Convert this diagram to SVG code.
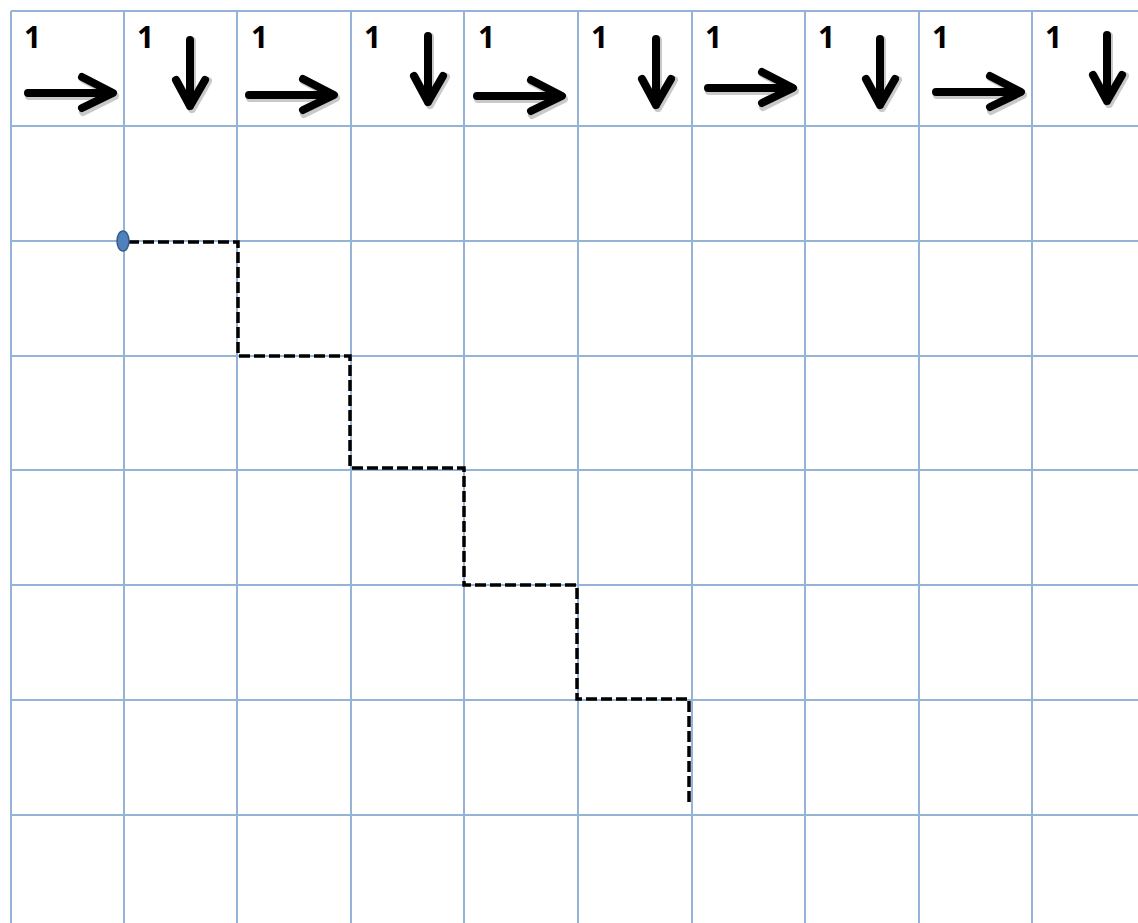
<svg xmlns="http://www.w3.org/2000/svg" width="1138" height="923" viewBox="0 0 1138 923">
<defs>
<style>
.g{stroke:#95B3D7;stroke-width:2;fill:none}
.a{stroke:#000;stroke-width:8;fill:none;stroke-linecap:round;stroke-linejoin:round}
.s{stroke:#888;stroke-opacity:0.45;stroke-width:8;fill:none;stroke-linecap:round;stroke-linejoin:round}
.n{font-family:"Open Sans","Liberation Sans",sans-serif;font-weight:bold;font-size:30px;fill:#000}
.d{stroke:#000;stroke-width:3.5;fill:none;stroke-dasharray:11 4}
</style>
<g id="ra"><path class="s" d="M29 96H114M83 79L115 96L83 112"/><path class="a" d="M28 93H112M82 77L113 93L82 108"/></g>
<g id="da"><path class="s" d="M192 41V109M177 81L192 109L208 81"/><path class="a" d="M190 40V106M176 80L190 106L205 80"/></g>
</defs>
<rect width="1138" height="923" fill="#fff"/>
<g id="grid">
<path class="g" d="M11 11V923M124 11V923M237 11V923M351 11V923M464 11V923M578 11V923M692 11V923M805 11V923M919 11V923M1032 11V923"/>
<path class="g" d="M11 11H1138M11 126H1138M11 241H1138M11 356H1138M11 470H1138M11 585H1138M11 700H1138M11 815H1138"/>
</g>
<g id="labels">
<text class="n" x="24" y="48">1</text>
<text class="n" x="137" y="48">1</text>
<text class="n" x="251" y="48">1</text>
<text class="n" x="364" y="48">1</text>
<text class="n" x="478" y="48">1</text>
<text class="n" x="591" y="48">1</text>
<text class="n" x="705" y="48">1</text>
<text class="n" x="818" y="48">1</text>
<text class="n" x="932" y="48">1</text>
<text class="n" x="1045" y="48">1</text>
</g>
<g id="arrows">
<use href="#ra"/>
<use href="#da"/>
<use href="#ra" x="221" y="2"/>
<use href="#da" x="238" y="-4"/>
<use href="#ra" x="449" y="3"/>
<use href="#da" x="466" y="-1"/>
<use href="#ra" x="680" y="-5"/>
<use href="#da" x="690" y="-1"/>
<use href="#ra" x="908" y="-1"/>
<use href="#da" x="917" y="-5"/>
</g>
<g id="path">
<path class="d" d="M128 242H238V356H350V468H464V585H577V699H689V802"/>
</g>
<g id="start">
<ellipse cx="123" cy="241" rx="6" ry="10" fill="#4F81BD" stroke="#385D8A" stroke-width="1.5"/>
</g>
</svg>
